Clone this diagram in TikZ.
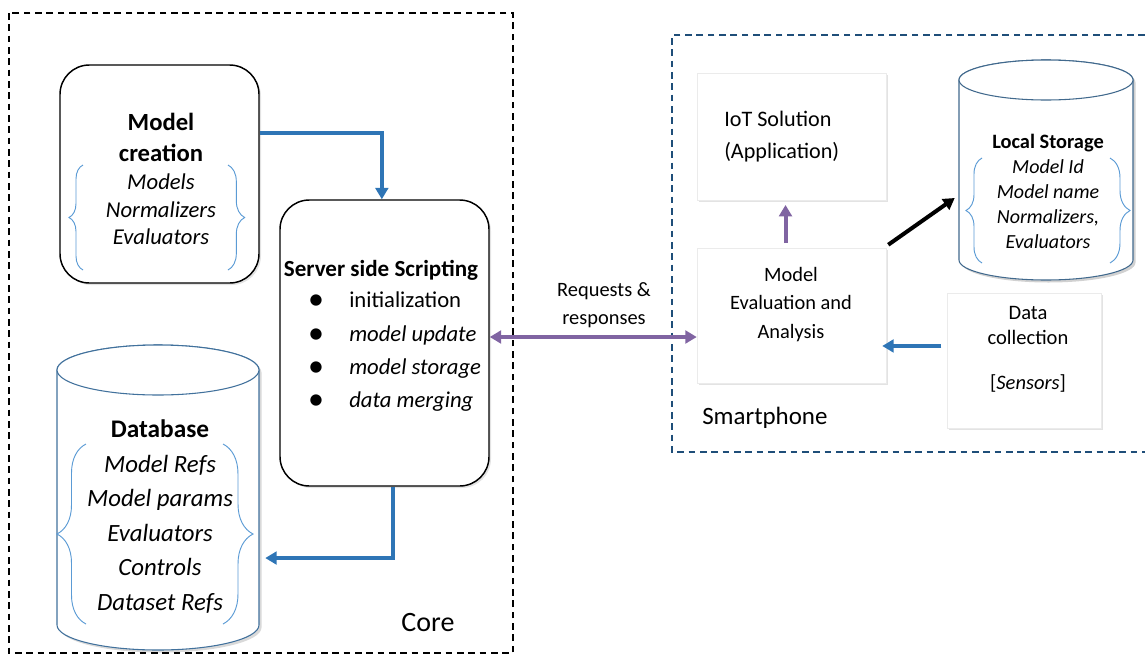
\documentclass[tikz,border=0pt]{standalone}
\usepackage{fontspec}
\setmainfont{Carlito}
\usetikzlibrary{arrows.meta,shadows,decorations.pathreplacing,calc}
\definecolor{arrowblue}{RGB}{46,117,182}
\definecolor{arrowpurple}{RGB}{128,100,162}
\definecolor{phoneblue}{RGB}{31,78,121}
\definecolor{braceblue}{RGB}{91,155,213}
\definecolor{cylblue}{RGB}{65,113,156}
\begin{document}
\begin{tikzpicture}[x=0.75pt,y=0.75pt,
  myshadow/.style={drop shadow={opacity=0.22,shadow xshift=1.5pt,shadow yshift=-1.5pt}},
  roundbox/.style 2 args={draw=black, line width=1.1pt, fill=white, rounded corners=22pt,
     minimum width=#1*0.75pt, minimum height=#2*0.75pt, myshadow},
  plainbox/.style 2 args={draw=black!8, line width=0.4pt, fill=white,
     minimum width=#1*0.75pt, minimum height=#2*0.75pt, myshadow},
  area/.style 2 args={minimum width=#1*0.75pt, minimum height=#2*0.75pt, inner sep=0pt},
  cyl/.style={draw=cylblue, line width=0.8pt, fill=white},
  bracestyle/.style={draw=braceblue, line width=0.7pt, decorate},
  tip/.style={-{Triangle[length=8.5pt,width=9.5pt]}},
  blueconn/.style={draw=arrowblue, line width=3pt, tip},
  purpleconn/.style={draw=arrowpurple, line width=3pt, tip},
  purpleboth/.style={draw=arrowpurple, line width=3pt, {Triangle[length=8.5pt,width=9.5pt]}-{Triangle[length=8.5pt,width=9.5pt]}},
  blackconn/.style={draw=black, line width=3pt, tip},
  regionline/.style={line width=1.5pt, dash pattern=on 5pt off 3.5pt},
  txt/.style={inner sep=0pt, align=center},
  boldA/.style={font=\fontsize{18.5}{23.25}\selectfont\bfseries},
  italA/.style={font=\fontsize{17}{20.6}\selectfont\itshape},
  srvB/.style={font=\fontsize{17.3}{20}\selectfont\bfseries},
  srvI/.style={font=\fontsize{17}{20}\selectfont},
  bul/.style={font=\fontsize{24}{24}\selectfont},
  dbB/.style={font=\fontsize{19}{23}\selectfont\bfseries},
  dbI/.style={font=\fontsize{18.6}{25.9}\selectfont\itshape},
  lsB/.style={font=\fontsize{15.3}{18}\selectfont\bfseries},
  lsI/.style={font=\fontsize{15}{18.75}\selectfont\itshape},
  plainfont/.style={font=\fontsize{15.3}{21.2}\selectfont}
]
\useasboundingbox (0,0) rectangle (1145,-657);

% ---------- regions ----------
\draw[regionline, draw=black] (9,-13) rectangle (513,-653);
\draw[regionline, draw=phoneblue] (1145,-35) -- (672,-35) -- (672,-452) -- (1145,-452);
\node[txt, font=\fontsize{21}{25}\selectfont] (core) at (428,-622) {Core};
\node[txt, anchor=west, font=\fontsize{18.7}{22}\selectfont] (phone) at (702,-418) {Smartphone};

% ---------- Model creation ----------
\node[roundbox={199}{218}] (mc) at (159.5,-174) {};
\node[txt, boldA] (mct1) at (161,-137.5) {Model\\creation};
\node[txt, italA] (mct2) at (161,-209.5) {\textit{Models}\\\textit{Normalizers}\\\textit{Evaluators}};
\draw[bracestyle, decoration={brace, amplitude=10.5pt}] (83,-270) -- (83,-165);
\draw[bracestyle, decoration={brace, amplitude=12.5pt}] (228,-165) -- (228,-270);

% ---------- Server side scripting ----------
\node[roundbox={209}{286}] (ss) at (384.5,-343) {};
\node[txt, srvB] (sst) at (381,-270) {Server side Scripting};
\node[txt, bul] (b1) at (316,-302) {\textbullet};
\node[txt, bul] (b2) at (316,-336) {\textbullet};
\node[txt, bul] (b3) at (316,-369) {\textbullet};
\node[txt, bul] (b4) at (316,-402) {\textbullet};
\node[txt, srvI, anchor=base west] (i1) at (349,-307) {initialization};
\node[txt, srvI, anchor=base west] (i2) at (349,-341) {\textit{model update}};
\node[txt, srvI, anchor=base west] (i3) at (349,-374) {\textit{model storage}};
\node[txt, srvI, anchor=base west] (i4) at (349,-407) {\textit{data merging}};

% ---------- Database cylinder ----------
\node[area={202}{305}] (db) at (158,-497.5) {};
\fill[black, opacity=0.15] (59.5,-372.5) -- (59.5,-627.5) arc[start angle=180,end angle=360,x radius=75.75pt,y radius=18.75pt] -- (261.5,-372.5) arc[start angle=0,end angle=180,x radius=75.75pt,y radius=18.75pt] -- cycle;
\draw[cyl] (57,-370) -- (57,-625) arc[start angle=180,end angle=360,x radius=75.75pt,y radius=18.75pt] -- (259,-370) arc[start angle=0,end angle=180,x radius=75.75pt,y radius=18.75pt] -- cycle;
\draw[cyl] (158,-370) ellipse [x radius=75.75pt, y radius=18.75pt];
\node[txt, dbB] (dbt) at (160,-429) {Database};
\node[txt, dbI] (dbi) at (160,-534) {Model Refs\\Model params\\Evaluators\\Controls\\Dataset Refs};
\draw[bracestyle, decoration={brace, amplitude=21.75pt}] (86,-624) -- (86,-444);
\draw[bracestyle, decoration={brace, amplitude=22.5pt}] (223,-444) -- (223,-624);

% ---------- Smartphone parts ----------
\node[plainbox={189}{127}] (iot) at (791.5,-136.5) {};
\node[txt, anchor=west, align=left, font=\fontsize{16.6}{24}\selectfont] (iott) at (724,-137) {IoT Solution\\(Application)};

\node[plainbox={189}{135}] (me) at (791.5,-315.5) {};
\node[txt, plainfont] (met) at (791,-304.5) {Model\\Evaluation and\\Analysis};

\node[plainbox={154}{135}] (dc) at (1024,-360.5) {};
\node[txt, font=\fontsize{15.4}{18.75}\selectfont] (dct) at (1028,-349) {Data\\collection\\[15pt]{[}\textit{Sensors}]};

% Local storage cylinder
\node[area={174}{220}] (ls) at (1046,-170) {};
\fill[black, opacity=0.18] (961.5,-82.5) -- (961.5,-262.5) arc[start angle=180,end angle=360,x radius=65.25pt,y radius=15pt] -- (1135.5,-82.5) arc[start angle=0,end angle=180,x radius=65.25pt,y radius=15pt] -- cycle;
\draw[cyl, draw=phoneblue!85] (959,-80) -- (959,-260) arc[start angle=180,end angle=360,x radius=65.25pt,y radius=15pt] -- (1133,-80) arc[start angle=0,end angle=180,x radius=65.25pt,y radius=15pt] -- cycle;
\draw[cyl, draw=phoneblue!85] (1046,-80) ellipse [x radius=65.25pt, y radius=15pt];
\node[txt, lsB] (lst) at (1048,-143) {Local Storage};
\node[txt, lsI] (lsi) at (1048,-204) {Model Id\\Model name\\Normalizers,\\Evaluators};
\draw[bracestyle, decoration={brace, amplitude=12pt}] (982,-263) -- (982,-158);
\draw[bracestyle, decoration={brace, amplitude=15pt}] (1110,-158) -- (1110,-263);

% Requests label
\node[txt, plainfont] (req) at (604,-305) {Requests \&\\responses};

% ---------- connectors ----------
\draw[blueconn] ([yshift=30.75pt]mc.east) -| ([xshift=-2pt]ss.north);
\draw[blueconn] ([xshift=6.5pt]ss.south) |- ([shift={(4.5pt,-45.4pt)}]db.east);
\draw[purpleboth] ([yshift=4.5pt]ss.east) -- ([yshift=4.5pt]ss.east -| me.west);
\draw[purpleconn, shorten <=3.5pt, shorten >=3.5pt] ([xshift=-4.5pt]me.north) -- ([xshift=-4.5pt]iot.south);
\draw[blackconn] ([shift={(1.5pt,2.25pt)}]me.north east) -- ([shift={(-3pt,-21pt)}]ls.west);
\draw[blueconn] ([shift={(-4pt,10.9pt)}]dc.west) -- ([shift={(-3pt,10.9pt)}]dc.west -| me.east);
\end{tikzpicture}
\end{document}
